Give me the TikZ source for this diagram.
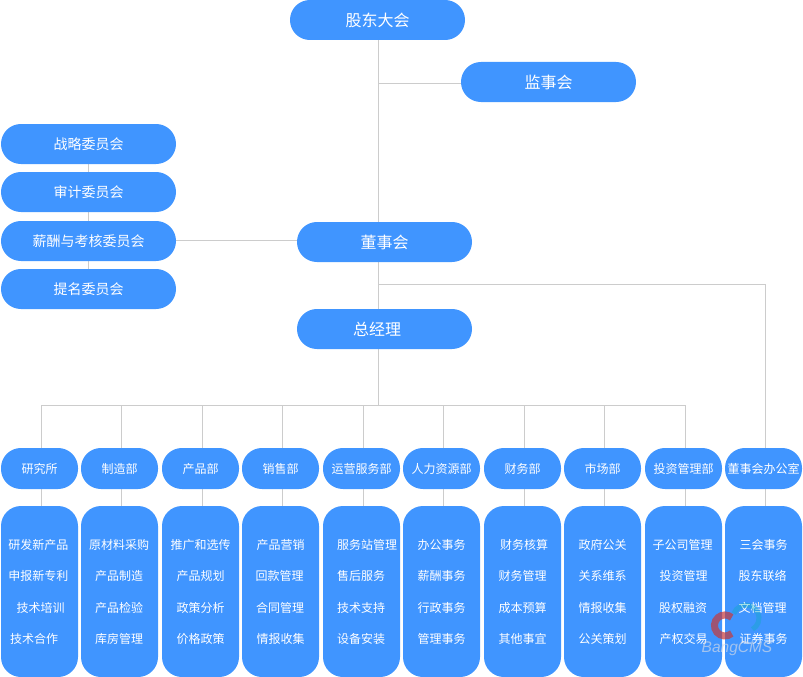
\documentclass[tikz,border=0pt]{standalone}
\usepackage{fontspec}
\setmainfont{Noto Sans CJK SC}
\newfontfamily\wmfont{Liberation Sans}
\usetikzlibrary{backgrounds}
\definecolor{pillblue}{RGB}{64,149,255}
\definecolor{linegray}{RGB}{204,204,204}
\definecolor{wmgray}{RGB}{205,215,232}
\tikzset{
  x=1pt,y=-1pt,
  pill/.style={draw=none,fill=pillblue,text=white,rounded corners=19.9pt,inner sep=0pt,minimum height=40pt,minimum width=175pt},
  toppill/.style={pill,font=\fontsize{16}{18}\selectfont},
  midpill/.style={pill,font=\fontsize{14}{16}\selectfont},
  deptpill/.style={pill,minimum width=77pt,minimum height=41pt,font=\fontsize{12}{14}\selectfont},
  listbox/.style={draw=none,fill=pillblue,rounded corners=20pt,inner sep=0pt,minimum width=77pt,minimum height=171pt},
  listitem/.style={text=white,inner sep=0pt,font=\fontsize{12}{14}\selectfont},
  conn/.style={draw=linegray,line width=1pt},
}
\begin{document}
\begin{tikzpicture}
\useasboundingbox (0,0) rectangle (803,677);
% top nodes
\node[toppill] (gd) at (377.5,20) {股东大会};
\node[toppill] (js) at (548.5,82) {监事会};
\node[toppill] (ds) at (384.5,242) {董事会};
\node[toppill] (zj) at (384.5,329) {\hspace*{-15pt}总经理};
% committees
\node[midpill] (c1) at (88.5,144) {战略委员会};
\node[midpill] (c2) at (88.5,192) {审计委员会};
\node[midpill] (c3) at (88.5,241) {薪酬与考核委员会};
\node[midpill] (c4) at (88.5,289) {提名委员会};
% departments and lists
\foreach \n/\cx/\lx/\t in {
  d1/39.5/41.5/研究所,d2/119.5/121.5/制造部,d3/200.5/202.5/产品部,d4/280.5/282.5/销售部,
  d5/361.5/363.5/运营服务部,d6/441.5/443.5/人力资源部,d7/522.5/524.5/财务部,d8/602.5/604.5/市场部,
  d9/683.5/685.5/投资管理部,d10/763.5/765.5/董事会办公室}{
  \node[deptpill] (\n) at (\cx,468.5) {\t};
  \node[listbox] (\n box) at (\cx,591.5) {};
  \coordinate (\n drop) at (\lx,405);
}
\foreach \n/\a/\xa/\b/\xb/\c/\xc/\d/\xd in {
  d1/研发新产品/38.5/申报新专利/38.5/技术培训/40.5/技术合作/34,
  d2/原材料采购/119/产品制造/119/产品检验/119/库房管理/119,
  d3/推广和选传/200.5/产品规划/200.5/政策分析/200.5/价格政策/200.5,
  d4/产品营销/280.5/回款管理/279.5/合同管理/280/情报收集/280.5,
  d5/服务站管理/367/售后服务/361/技术支持/361/设备安装/361,
  d6/办公事务/441.5/薪酬事务/441.5/行政事务/441.5/管理事务/441.5,
  d7/财务核算/524/财务管理/522.5/成本预算/522.5/其他事宜/522.5,
  d8/政府公关/602.5/关系维系/602.5/情报收集/602.5/公关策划/602.5,
  d9/子公司管理/682.5/投资管理/683.5/股权融资/683/产权交易/683.5,
  d10/三会事务/763.5/股东联络/762.5/文档管理/762.5/证券事务/763.5}{
  \node[listitem] (\n i1) at (\xa,544.5) {\a};
  \node[listitem] (\n i2) at (\xb,575.5) {\b};
  \node[listitem] (\n i3) at (\xc,607.5) {\c};
  \node[listitem] (\n i4) at (\xd,638.5) {\d};
}
% connector junctions
\coordinate (trunk) at (378.5,405);
\coordinate (jsj) at (378.5,83);
\coordinate (dsj) at (378.5,284);
\coordinate (ccol) at (88.5,200);
\begin{scope}[on background layer]
  \draw[conn] (gd.south -| trunk) -- (trunk);
  \draw[conn] (jsj) -- (jsj -| js.west);
  \draw[conn] (c1 -| ccol) -- (c4 -| ccol);
  \draw[conn] (c3.east |- 0,240.5) -- (ds.west |- 0,240.5);
  \draw[conn] (dsj) -| (d10drop) -- (d10.north -| d10drop);
  \draw[conn] (d1drop) -- (d9drop);
  \foreach \n in {d1,d2,d3,d4,d5,d6,d7,d8,d9}
    \draw[conn] (\n drop) -- (\n.north -| \n drop);
  \foreach \n in {d1,d2,d3,d4,d5,d6,d7,d8,d9,d10}
    \draw[conn] (\n.south -| \n drop) -- (\n box.north -| \n drop);
\end{scope}
% watermark
\draw[line width=7pt,red!55!gray,opacity=.7] (731.7,633.5) arc[start angle=50,end angle=310,radius=10.5];
\draw[line width=5pt,teal!60!cyan,opacity=.3] (733.8,613.6) arc[start angle=200,end angle=420,radius=13];
\node[text=wmgray,opacity=.7,inner sep=0pt,font=\wmfont\itshape\fontsize{15.5}{18}\selectfont] (wmark) at (737,648.5) {BangCMS};
\end{tikzpicture}
\end{document}
